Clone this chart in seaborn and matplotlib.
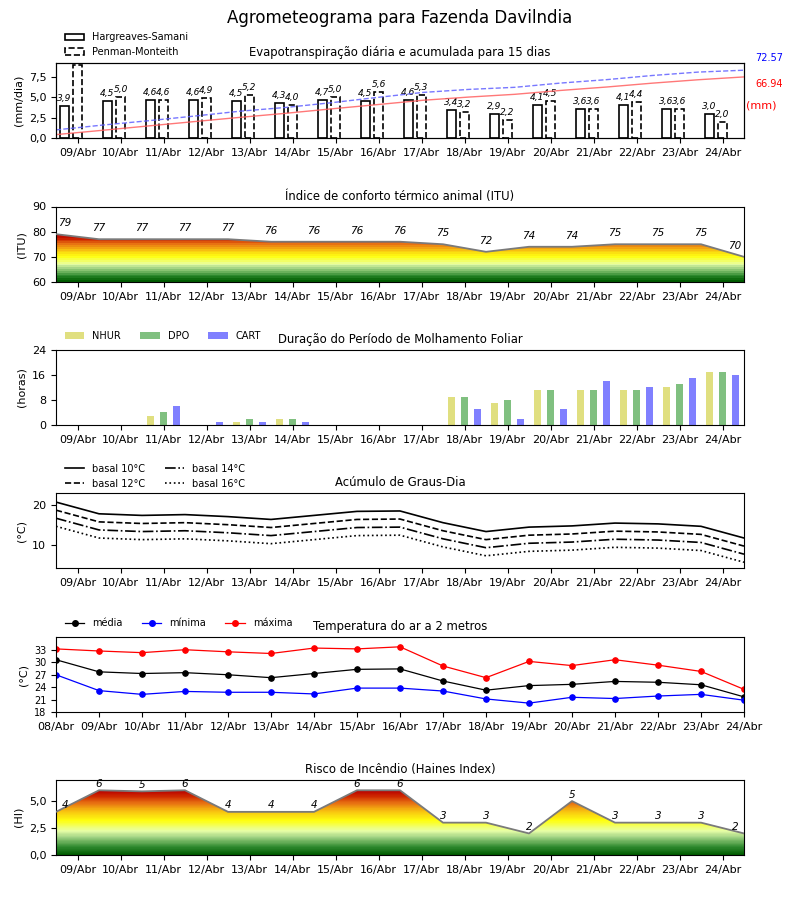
import numpy as np
import pandas as pd
import matplotlib
matplotlib.use("Agg")
import matplotlib.pyplot as plt
import seaborn as sns
from matplotlib.colors import LinearSegmentedColormap
from matplotlib.ticker import FuncFormatter, MultipleLocator, FixedLocator
from matplotlib.patches import Patch
from matplotlib.lines import Line2D

# ---------------- data ----------------
days = ["09/Abr", "10/Abr", "11/Abr", "12/Abr", "13/Abr", "14/Abr", "15/Abr", "16/Abr",
        "17/Abr", "18/Abr", "19/Abr", "20/Abr", "21/Abr", "22/Abr", "23/Abr", "24/Abr"]
days_temp = ["08/Abr"] + days

et_hs = [3.9, 4.5, 4.6, 4.6, 4.5, 4.3, 4.7, 4.5, 4.6, 3.4, 2.9, 4.1, 3.6, 4.1, 3.6, 3.0]
et_pm = [8.9, 5.0, 4.6, 4.9, 5.2, 4.0, 5.0, 5.6, 5.3, 3.2, 2.2, 4.5, 3.6, 4.4, 3.6, 2.0]
et_total_pm = 72.57
et_total_hs = 66.94

itu = [79, 77, 77, 77, 77, 76, 76, 76, 76, 75, 72, 74, 74, 75, 75, 75, 70]

wet_nhur = [0, 0, 3, 0, 1, 2, 0, 0, 0, 9, 7, 11, 11, 11, 12, 17]
wet_dpo = [0, 0, 4, 0, 2, 2, 0, 0, 0, 9, 8, 11, 11, 11, 13, 17]
wet_cart = [0, 0, 6, 1, 1, 1, 0, 0, 0, 5, 2, 5, 14, 12, 15, 16]

t_mean = [30.6, 27.7, 27.3, 27.5, 27.0, 26.3, 27.3, 28.3, 28.4, 25.5, 23.3, 24.4, 24.7, 25.4, 25.2, 24.6, 21.7]
t_min = [27.0, 23.2, 22.3, 23.0, 22.8, 22.8, 22.4, 23.8, 23.8, 23.1, 21.2, 20.2, 21.6, 21.3, 21.9, 22.3, 20.9]
t_max = [33.2, 32.7, 32.3, 33.0, 32.5, 32.1, 33.4, 33.2, 33.7, 29.1, 26.3, 30.2, 29.2, 30.6, 29.3, 27.8, 23.5]

base_temps = [10, 12, 14, 16]

haines = [4, 6, 5.9, 6, 4, 4, 4, 6, 6, 3, 3, 2, 5, 3, 3, 3, 2]

# ---------------- helpers ----------------
risk_cmap = LinearSegmentedColormap.from_list(
    "risk",
    [(0.0, "#005c00"), (0.12, "#2f8a2f"), (0.27, "#9fd283"), (0.37, "#e8ffa8"),
     (0.53, "#ffff10"), (0.68, "#f8c010"), (0.80, "#e87212"), (0.92, "#cc2200"),
     (1.0, "#b80000")])

comma = FuncFormatter(lambda v, p: f"{v:.1f}".replace(".", ","))


def gradient_fill(ax, x, y, ymin, nrows):
    x = np.asarray(x, float)
    y = np.asarray(y, float)
    grad = np.linspace(0, 1, nrows).reshape(-1, 1)
    im = ax.imshow(grad, aspect="auto", cmap=risk_cmap, origin="lower",
                   extent=[x[0], x[-1], ymin, y.max()], interpolation="nearest", zorder=1)
    poly = ax.fill_between(x, y, ymin, facecolor="none", edgecolor="none")
    im.set_clip_path(poly.get_paths()[0], transform=ax.transData)


def day_axis(ax):
    ax.set_xlim(-0.5, len(days) - 0.5)
    ax.xaxis.set_major_locator(FixedLocator(range(len(days))))
    ax.set_xticklabels(days)


fig = plt.figure(figsize=(8, 9), dpi=100)
plt.rcParams["font.family"] = ["DejaVu Sans"]

L, W, H = 56 / 800, 688 / 800, 75.5 / 900
bottoms = [(900 - b) / 900 for b in (138.3, 282, 425, 568.3, 712.3, 855)]
axs = [fig.add_axes([L, b, W, H]) for b in bottoms]
for ax in axs:
    ax.tick_params(labelsize=8)

fig.suptitle("Agrometeograma para Fazenda Davilndia", fontsize=12, y=0.99)

title_kw = dict(fontsize=8.4, pad=5)


def leg_kw(yoff=1.0):
    return dict(loc="lower left", bbox_to_anchor=(0.006, yoff), frameon=False, fontsize=7,
                borderaxespad=0.1, handlelength=2.0)


# ---------------- panel 1: evapotranspiration ----------------
ax = axs[0]
pos = np.arange(len(days))
bw = 0.21
ymax1 = max(et_pm) * 1.03
ax.bar(pos - 0.31, et_hs, width=bw, facecolor="white", edgecolor="black", lw=1.2, zorder=2)
ax.bar(pos, et_pm, width=bw, facecolor="white", edgecolor="black", lw=1.2, linestyle="--", zorder=2)
for xs, vals in ((pos - 0.31, et_hs), (pos, et_pm)):
    for xi, v in zip(xs, vals):
        if v > 0.9 * ymax1:
            continue  # label would fall outside the plotting area
        ax.annotate(f"{v:.1f}".replace(".", ","), (xi, v), xytext=(0, 7.5),
                    textcoords="offset pixels", ha="center", va="center",
                    fontsize=6.5, style="italic")
day_axis(ax)
ax.set_ylim(0, ymax1)
ax.yaxis.set_major_locator(MultipleLocator(2.5))
ax.yaxis.set_major_formatter(comma)
ax.set_ylabel("(mm/dia)", fontsize=8)
ax.set_title("Evapotranspiração diária e acumulada para 15 dias", **title_kw)
ax.legend(handles=[Patch(facecolor="white", edgecolor="black", lw=1.2),
                   Patch(facecolor="white", edgecolor="black", lw=1.2, linestyle="--")],
          labels=["Hargreaves-Samani", "Penman-Monteith"], ncol=1, **leg_kw(1.01))

axb = ax.twinx()
xc = np.linspace(-0.5, len(days) - 0.5, len(days))
sns.lineplot(x=xc, y=np.cumsum(et_hs), ax=axb, color="#ff6060", alpha=0.85, lw=1.0, sort=False, errorbar=None)
sns.lineplot(x=xc, y=np.cumsum(et_pm), ax=axb, color="#6060ff", alpha=0.85, lw=1.0, linestyle="--",
             sort=False, errorbar=None)
axb.set_ylim(0, max(et_total_pm, et_total_hs) * 1.1)
axb.set_yticks([])
axb.set_xlim(-0.5, len(days) - 0.5)
ax.text(1.036, 1.067, f"{et_total_pm:.2f}", transform=ax.transAxes, color="blue", fontsize=7,
        ha="center", va="center")
ax.text(1.036, 0.72, f"{et_total_hs:.2f}", transform=ax.transAxes, color="red", fontsize=7,
        ha="center", va="center")
ax.text(1.025, 0.44, "(mm)", transform=ax.transAxes, color="red", fontsize=8, ha="center", va="center")

# ---------------- panel 2: ITU ----------------
ax = axs[1]
xp = np.arange(len(itu)) - 0.5
gradient_fill(ax, xp, itu, 60, 26)
sns.lineplot(x=xp, y=itu, ax=ax, color="#7a7a7a", lw=1.3, sort=False, errorbar=None, zorder=3)
n = len(itu)
for i, (xi, v) in enumerate(zip(xp, itu)):
    dx = 9 if i == 0 else (-9 if i == n - 1 else 0)
    ax.annotate(f"{int(v)}", (xi, v), xytext=(dx, 11), textcoords="offset pixels",
                ha="center", va="center", fontsize=7.5, style="italic")
day_axis(ax)
ax.set_ylim(60, 90)
ax.set_yticks([60, 70, 80, 90])
ax.set_ylabel("(ITU)", fontsize=8)
ax.set_title("Índice de conforto térmico animal (ITU)", **title_kw)

# ---------------- panel 3: leaf wetness ----------------
ax = axs[2]
wet = pd.DataFrame({"dia": days * 3,
                    "metodo": ["NHUR"] * len(days) + ["DPO"] * len(days) + ["CART"] * len(days),
                    "horas": wet_nhur + wet_dpo + wet_cart})
wet_colors = {"NHUR": "#e0df80", "DPO": "#80c080", "CART": "#8080ff"}
sns.barplot(data=wet, x="dia", y="horas", hue="metodo", order=days,
            hue_order=["NHUR", "DPO", "CART"], palette=wet_colors,
            width=0.9, gap=0.47, ax=ax, errorbar=None, saturation=1)
day_axis(ax)
ax.set_xlabel("")
ax.set_ylim(0, 24)
ax.set_yticks([0, 8, 16, 24])
ax.set_ylabel("(horas)", fontsize=8)
ax.set_title("Duração do Período de Molhamento Foliar", **title_kw)
ax.legend(handles=[Patch(facecolor=wet_colors[k]) for k in ("NHUR", "DPO", "CART")],
          labels=["NHUR", "DPO", "CART"], ncol=3, **leg_kw(1.053))

# ---------------- panel 4: degree days ----------------
ax = axs[3]
xp = np.arange(len(t_mean)) - 0.5
styles = ["-", "--", "-.", ":"]
handles = []
for b, ls in zip(base_temps, styles):
    gd = np.clip(np.asarray(t_mean) - b, 0, None)
    sns.lineplot(x=xp, y=gd, ax=ax, color="black", lw=1.2, linestyle=ls, sort=False, errorbar=None)
    handles.append(Line2D([], [], color="black", lw=1.2, linestyle=ls))
day_axis(ax)
ax.set_ylim(4.2, 22.9)
ax.set_yticks([10, 20])
ax.set_ylabel("(°C)", fontsize=8)
ax.set_title("Acúmulo de Graus-Dia", **title_kw)
ax.legend(handles=handles, labels=[f"basal {b}°C" for b in base_temps], ncol=2, **leg_kw(0.99))

# ---------------- panel 5: temperature ----------------
ax = axs[4]
xt = np.arange(len(days_temp))
temp_series = [("média", t_mean, "black"), ("mínima", t_min, "blue"), ("máxima", t_max, "red")]
handles = []
for name, vals, col in temp_series:
    sns.lineplot(x=xt, y=vals, ax=ax, color=col, lw=0.9, marker="o", markersize=4,
                 markeredgecolor=col, sort=False, errorbar=None)
    handles.append(Line2D([], [], color=col, lw=0.9, marker="o", markersize=4))
ax.set_xlim(0, len(days_temp) - 1)
ax.xaxis.set_major_locator(FixedLocator(xt))
ax.set_xticklabels(days_temp)
ax.set_ylim(18, 36.1)
ax.set_yticks([18, 21, 24, 27, 30, 33])
ax.tick_params(axis="y", labelsize=7)
ax.set_ylabel("(°C)", fontsize=8)
ax.set_title("Temperatura do ar a 2 metros", **title_kw)
ax.legend(handles=handles, labels=[s[0] for s in temp_series], ncol=3, **leg_kw(1.053))

# ---------------- panel 6: Haines ----------------
ax = axs[5]
xp = np.arange(len(haines)) - 0.5
gradient_fill(ax, xp, haines, 0, 120)
sns.lineplot(x=xp, y=haines, ax=ax, color="#7a7a7a", lw=1.3, sort=False, errorbar=None, zorder=3)
n = len(haines)
for i, (xi, v) in enumerate(zip(xp, haines)):
    dx = 9 if i == 0 else (-9 if i == n - 1 else 0)
    ax.annotate(f"{int(v)}", (xi, v), xytext=(dx, 6.5), textcoords="offset pixels",
                ha="center", va="center", fontsize=7.5, style="italic")
day_axis(ax)
ax.set_ylim(0, 7)
ax.yaxis.set_major_locator(MultipleLocator(2.5))
ax.yaxis.set_major_formatter(comma)
ax.set_ylabel("(HI)", fontsize=8)
ax.set_title("Risco de Incêndio (Haines Index)", **title_kw)

for ax in axs:
    ax.set_xlabel("")

fig.savefig("out.png", dpi=100)
